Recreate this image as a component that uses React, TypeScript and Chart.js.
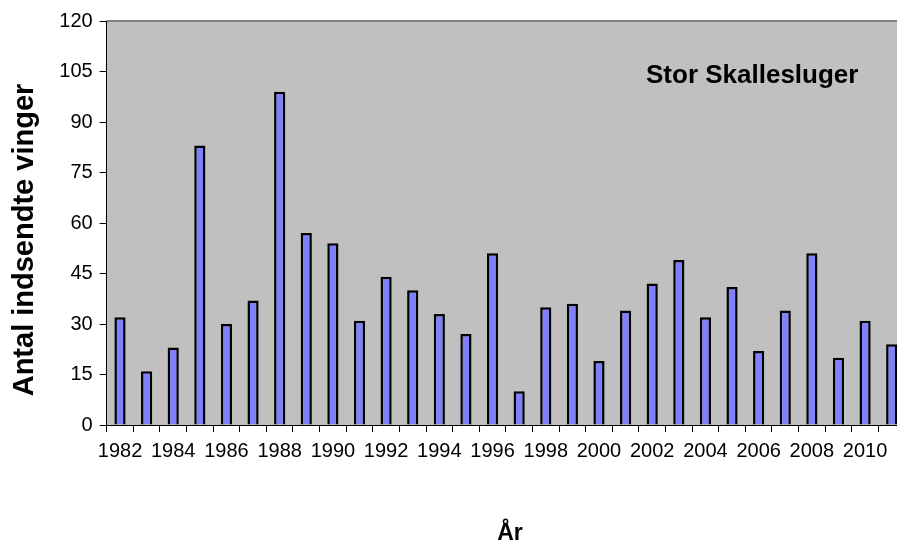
import React, { useEffect, useRef } from "react";
import { Chart, registerables } from "chart.js";

Chart.register(...registerables);

const years: string[] = [
  "1982", "1983", "1984", "1985", "1986", "1987", "1988", "1989", "1990", "1991",
  "1992", "1993", "1994", "1995", "1996", "1997", "1998", "1999", "2000", "2001",
  "2002", "2003", "2004", "2005", "2006", "2007", "2008", "2009", "2010", "2011",
];
const wings: number[] = [
  32, 16, 23, 83, 30, 37, 99, 57, 54, 31,
  44, 40, 33, 27, 51, 10, 35, 36, 19, 34,
  42, 49, 32, 41, 22, 34, 51, 20, 31, 24,
];
const yTicks = { min: 0, max: 120, step: 15 };
const yTitle = "Antal indsendte vinger";
const xTitle = "År";
const speciesLabel = "Stor Skallesluger";

const FONT = '"Liberation Sans", Arial, Helvetica, sans-serif';

const decorPlugin = {
  id: "decor",
  beforeDraw(chart: any) {
    const { ctx, chartArea } = chart;
    const { left, top, right, bottom } = chartArea;
    ctx.save();
    ctx.fillStyle = "#C0C0C0";
    ctx.fillRect(left, top, right - left, bottom - top);
    ctx.strokeStyle = "#808080";
    ctx.lineWidth = 2;
    ctx.beginPath();
    ctx.moveTo(left, top);
    ctx.lineTo(right, top);
    ctx.stroke();
    ctx.restore();
  },
  afterDraw(chart: any) {
    const { ctx, chartArea } = chart;
    ctx.save();
    ctx.fillStyle = "#000";
    // species label
    ctx.font = `bold 26px ${FONT}`;
    ctx.textAlign = "left";
    ctx.textBaseline = "alphabetic";
    ctx.fillText(speciesLabel, 646, 83);
    // x title
    ctx.font = `bold 23px ${FONT}`;
    ctx.textAlign = "center";
    ctx.fillText(xTitle, 510, 540);
    // y title
    ctx.font = `bold 29px ${FONT}`;
    ctx.translate(33, (chartArea.top + chartArea.bottom) / 2 + 17);
    ctx.rotate(-Math.PI / 2);
    ctx.textAlign = "center";
    ctx.fillText(yTitle, 0, 0);
    ctx.restore();
  },
};

export default function App() {
  const ref = useRef<HTMLCanvasElement | null>(null);

  useEffect(() => {
    if (!ref.current) return;
    const chart = new Chart(ref.current, {
      type: "bar",
      data: {
        labels: years,
        datasets: [
          {
            data: wings,
            backgroundColor: "#8080FF",
            borderColor: "#000000",
            borderWidth: 2.5,
            barPercentage: 0.42,
            categoryPercentage: 1.0,
          },
        ],
      },
      options: {
        animation: false,
        responsive: false,
        devicePixelRatio: 1,
        layout: { padding: { top: 21, left: 0, right: 0, bottom: 0 } },
        plugins: {
          legend: { display: false },
          tooltip: { enabled: false },
        },
        scales: {
          x: {
            offset: true,
            afterFit: (scale: any) => {
              scale.height = 118;
            },
            grid: {
              offset: true,
              drawOnChartArea: false,
              drawTicks: true,
              tickLength: 7,
              tickColor: "#000",
              tickWidth: 1,
            },
            border: { display: true, color: "#000", width: 1 },
            ticks: {
              autoSkip: false,
              maxRotation: 0,
              minRotation: 0,
              padding: 7,
              color: "#000",
              font: { family: FONT, size: 20 },
              callback: (_v: any, i: number) => (i % 2 === 0 ? years[i] : ""),
            },
          },
          y: {
            min: yTicks.min,
            max: yTicks.max,
            afterFit: (scale: any) => {
              scale.width = 106.7;
            },
            grid: {
              drawOnChartArea: false,
              drawTicks: true,
              tickLength: 7,
              tickColor: "#000",
              tickWidth: 1,
            },
            border: { display: true, color: "#000", width: 1 },
            ticks: {
              stepSize: yTicks.step,
              padding: 7,
              color: "#000",
              font: { family: FONT, size: 20 },
            },
          },
        },
      },
      plugins: [decorPlugin],
    });
    return () => chart.destroy();
  }, []);

  return (
    <div
      style={{
        position: "fixed",
        left: 0,
        top: 0,
        width: 897,
        height: 543,
        overflow: "hidden",
        background: "#fff",
      }}
    >
      <canvas ref={ref} width={905} height={543} style={{ display: "block" }} />
    </div>
  );
}
